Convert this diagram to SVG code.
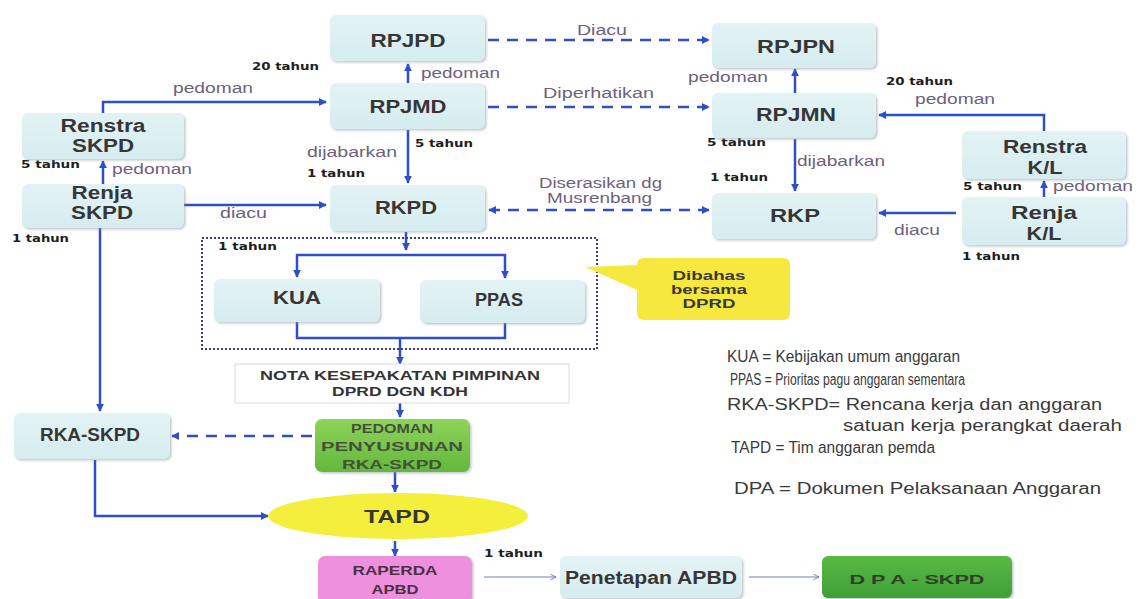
<svg xmlns="http://www.w3.org/2000/svg" width="1139" height="599" viewBox="0 0 1139 599">
<defs>
<style>
.bx{fill:url(#lb);filter:url(#sh)}
.n{font-family:"Liberation Sans",Arial,sans-serif;font-weight:bold;font-size:18px;fill:#363636;text-anchor:middle}
.ns{font-family:"Liberation Sans",Arial,sans-serif;font-weight:bold;font-size:13px;text-anchor:middle}
.l{font-family:"Liberation Sans",Arial,sans-serif;font-size:14px;fill:#6d5f80}
.y{font-family:"DejaVu Sans",sans-serif;font-weight:bold;font-size:11px;fill:#1e1e1e}
.g{font-family:"Liberation Sans",Arial,sans-serif;font-size:16px;fill:#3a3a3a}
.c{fill:none;stroke:#2f4fc6;stroke-width:2.5}
.d{fill:none;stroke:#2f4fc6;stroke-width:2.5;stroke-dasharray:11 8}
.t{fill:none;stroke:#6a7fc0;stroke-width:1}
</style>
<linearGradient id="lb" x1="0" y1="0" x2="0" y2="1"><stop offset="0" stop-color="#e3f3f5"/><stop offset="1" stop-color="#d6ecef"/></linearGradient>
<linearGradient id="gr" x1="0" y1="0" x2="0" y2="1"><stop offset="0" stop-color="#8fd35a"/><stop offset="1" stop-color="#62b83c"/></linearGradient>
<linearGradient id="gr2" x1="0" y1="0" x2="0" y2="1"><stop offset="0" stop-color="#58b944"/><stop offset="1" stop-color="#3fa035"/></linearGradient>
<filter id="sh" x="-10%" y="-10%" width="125%" height="140%"><feDropShadow dx="1.5" dy="1.5" stdDeviation="1.2" flood-color="#8a9aa0" flood-opacity="0.55"/></filter>
<marker id="a" viewBox="0 0 10 10" refX="9" refY="5" markerWidth="8" markerHeight="8" markerUnits="userSpaceOnUse" orient="auto-start-reverse"><path d="M0,0 L10,5 L0,10 z" fill="#2f4fc6"/></marker>
<marker id="at" viewBox="0 0 10 10" refX="9" refY="5" markerWidth="7" markerHeight="7" markerUnits="userSpaceOnUse" orient="auto"><path d="M1,1 L9,5 L1,9" fill="none" stroke="#6a7fc0" stroke-width="1.3"/></marker>
</defs>
<rect width="1139" height="599" fill="#ffffff"/>

<g id="connectors">
<path class="c" d="M408,83 L408,64" marker-end="url(#a)"/>
<path class="c" d="M103,113 L103,102 L326,102" marker-end="url(#a)"/>
<path class="c" d="M103,184 L103,161" marker-end="url(#a)"/>
<path class="c" d="M184,205 L326,205" marker-end="url(#a)"/>
<path class="c" d="M408,130 L408,183" marker-end="url(#a)"/>
<path class="c" d="M795,93 L795,69" marker-end="url(#a)"/>
<path class="c" d="M1044,132 L1044,115 L879,115" marker-end="url(#a)"/>
<path class="c" d="M1044,197 L1044,181" marker-end="url(#a)"/>
<path class="c" d="M956,213 L879,213" marker-end="url(#a)"/>
<path class="c" d="M795,139 L795,191" marker-end="url(#a)"/>
<path class="c" d="M406,232 L406,250" marker-end="url(#a)"/>
<path class="c" d="M406,255 L297,255 L297,277" marker-end="url(#a)"/>
<path class="c" d="M406,255 L505,255 L505,278" marker-end="url(#a)"/>
<path class="c" d="M297,322 L297,338 L505,338 L505,323"/>
<path class="c" d="M400,338 L400,364" marker-end="url(#a)"/>
<path class="c" d="M400,403 L400,417" marker-end="url(#a)"/>
<path class="c" d="M100,228 L100,411" marker-end="url(#a)"/>
<path class="c" d="M95,460 L95,516 L268,516" marker-end="url(#a)"/>
<path class="c" d="M395,472 L395,492" marker-end="url(#a)"/>
<path class="c" d="M395,541 L395,556" marker-end="url(#a)"/>
<path class="d" d="M488,40 L709,40" marker-end="url(#a)"/>
<path class="d" d="M488,107 L709,107" marker-end="url(#a)"/>
<path class="d" d="M489,210 L709,210" marker-start="url(#a)" marker-end="url(#a)"/>
<path class="d" d="M312,436 L172,436" marker-end="url(#a)"/>
<path class="t" d="M484,577 L556,577" marker-end="url(#at)"/>
<path class="t" d="M749,577 L819,577" marker-end="url(#at)"/>
</g>

<g id="labels">
<text class="l" x="173" y="93" textLength="80" lengthAdjust="spacingAndGlyphs">pedoman</text>
<text class="l" x="421" y="78" textLength="79" lengthAdjust="spacingAndGlyphs">pedoman</text>
<text class="l" x="112" y="174" textLength="80" lengthAdjust="spacingAndGlyphs">pedoman</text>
<text class="l" x="220" y="218" textLength="47" lengthAdjust="spacingAndGlyphs">diacu</text>
<text class="l" x="307" y="157" textLength="90" lengthAdjust="spacingAndGlyphs">dijabarkan</text>
<text class="l" x="577" y="35" textLength="50" lengthAdjust="spacingAndGlyphs">Diacu</text>
<text class="l" x="543" y="98" textLength="111" lengthAdjust="spacingAndGlyphs">Diperhatikan</text>
<text class="l" x="539" y="188" textLength="123" lengthAdjust="spacingAndGlyphs">Diserasikan dg</text>
<text class="l" x="547" y="203" textLength="105" lengthAdjust="spacingAndGlyphs">Musrenbang</text>
<text class="l" x="688" y="82" textLength="80" lengthAdjust="spacingAndGlyphs">pedoman</text>
<text class="l" x="915" y="104" textLength="80" lengthAdjust="spacingAndGlyphs">pedoman</text>
<text class="l" x="797" y="166" textLength="88" lengthAdjust="spacingAndGlyphs">dijabarkan</text>
<text class="l" x="1053" y="191" textLength="80" lengthAdjust="spacingAndGlyphs">pedoman</text>
<text class="l" x="894" y="235" textLength="46" lengthAdjust="spacingAndGlyphs">diacu</text>
<text class="y" x="252" y="70" textLength="67" lengthAdjust="spacingAndGlyphs">20 tahun</text>
<text class="y" x="415" y="147" textLength="58" lengthAdjust="spacingAndGlyphs">5 tahun</text>
<text class="y" x="307" y="177" textLength="58" lengthAdjust="spacingAndGlyphs">1 tahun</text>
<text class="y" x="21" y="168" textLength="59" lengthAdjust="spacingAndGlyphs">5 tahun</text>
<text class="y" x="12" y="242" textLength="57" lengthAdjust="spacingAndGlyphs">1 tahun</text>
<text class="y" x="218" y="250" textLength="59" lengthAdjust="spacingAndGlyphs">1 tahun</text>
<text class="y" x="886" y="85" textLength="67" lengthAdjust="spacingAndGlyphs">20 tahun</text>
<text class="y" x="707" y="146" textLength="59" lengthAdjust="spacingAndGlyphs">5 tahun</text>
<text class="y" x="710" y="181" textLength="58" lengthAdjust="spacingAndGlyphs">1 tahun</text>
<text class="y" x="963" y="190" textLength="59" lengthAdjust="spacingAndGlyphs">5 tahun</text>
<text class="y" x="962" y="260" textLength="58" lengthAdjust="spacingAndGlyphs">1 tahun</text>
<text class="y" x="484" y="557" textLength="59" lengthAdjust="spacingAndGlyphs">1 tahun</text>
</g>

<g id="box-1tahun">
<rect x="202" y="238" width="395" height="111" fill="none" stroke="#3a3f7a" stroke-width="2" stroke-dasharray="2 2"/>
</g>

<g id="RPJPD"><rect class="bx" x="330" y="15" width="155" height="46" rx="6"/><text class="n" x="408" y="47" textLength="75" lengthAdjust="spacingAndGlyphs">RPJPD</text></g>
<g id="RPJMD"><rect class="bx" x="330" y="83" width="155" height="46" rx="6"/><text class="n" x="408" y="113" textLength="77" lengthAdjust="spacingAndGlyphs">RPJMD</text></g>
<g id="RKPD"><rect class="bx" x="330" y="185" width="155" height="46" rx="6"/><text class="n" x="406" y="214" textLength="62" lengthAdjust="spacingAndGlyphs">RKPD</text></g>
<g id="RPJPN"><rect class="bx" x="712" y="23" width="164" height="45" rx="6"/><text class="n" x="796" y="53" textLength="78" lengthAdjust="spacingAndGlyphs">RPJPN</text></g>
<g id="RPJMN"><rect class="bx" x="712" y="93" width="164" height="45" rx="6"/><text class="n" x="796" y="121" textLength="80" lengthAdjust="spacingAndGlyphs">RPJMN</text></g>
<g id="RKP"><rect class="bx" x="712" y="193" width="164" height="46" rx="6"/><text class="n" x="795" y="222" textLength="50" lengthAdjust="spacingAndGlyphs">RKP</text></g>
<g id="RenstraSKPD"><rect class="bx" x="22" y="113" width="162" height="46" rx="6"/><text class="n" x="103" y="132" textLength="85" lengthAdjust="spacingAndGlyphs">Renstra</text><text class="n" x="103" y="152" textLength="62" lengthAdjust="spacingAndGlyphs">SKPD</text></g>
<g id="RenjaSKPD"><rect class="bx" x="22" y="184" width="162" height="44" rx="6"/><text class="n" x="102" y="199" textLength="61" lengthAdjust="spacingAndGlyphs">Renja</text><text class="n" x="102" y="219" textLength="62" lengthAdjust="spacingAndGlyphs">SKPD</text></g>
<g id="RenstraKL"><rect class="bx" x="962" y="131" width="164" height="48" rx="6"/><text class="n" x="1045" y="153" textLength="84" lengthAdjust="spacingAndGlyphs">Renstra</text><text class="n" x="1045" y="174" textLength="35" lengthAdjust="spacingAndGlyphs">K/L</text></g>
<g id="RenjaKL"><rect class="bx" x="962" y="197" width="164" height="48" rx="6"/><text class="n" x="1044" y="219" textLength="66" lengthAdjust="spacingAndGlyphs">Renja</text><text class="n" x="1044" y="240" textLength="35" lengthAdjust="spacingAndGlyphs">K/L</text></g>
<g id="KUA"><rect class="bx" x="214" y="279" width="166" height="43" rx="6"/><text class="n" x="297" y="304" textLength="48" lengthAdjust="spacingAndGlyphs">KUA</text></g>
<g id="PPAS"><rect class="bx" x="420" y="280" width="165" height="43" rx="6"/><text class="n" x="499" y="306" textLength="48" lengthAdjust="spacingAndGlyphs">PPAS</text></g>
<g id="Dibahas">
<path d="M644,258 L783,258 Q790,258 790,265 L790,313 Q790,320 783,320 L644,320 Q637,320 637,313 L637,290 L585,267 L637,265 Q637,258 644,258 Z" fill="#f6e83e"/>
<text class="ns" x="709" y="280" fill="#3a3a3a" font-size="14" textLength="73" lengthAdjust="spacingAndGlyphs">Dibahas</text>
<text class="ns" x="709" y="294" fill="#3a3a3a" font-size="14" textLength="76" lengthAdjust="spacingAndGlyphs">bersama</text>
<text class="ns" x="709" y="308" fill="#3a3a3a" font-size="14" textLength="53" lengthAdjust="spacingAndGlyphs">DPRD</text>
</g>
<g id="NOTA"><rect x="235" y="364" width="334" height="39" fill="#ffffff" stroke="#dcdcdc" stroke-width="1"/>
<text class="ns" x="400" y="380" fill="#333" font-size="12" textLength="280" lengthAdjust="spacingAndGlyphs">NOTA KESEPAKATAN PIMPINAN</text>
<text class="ns" x="400" y="396" fill="#333" font-size="12" textLength="136" lengthAdjust="spacingAndGlyphs">DPRD DGN KDH</text></g>
<g id="RKASKPD"><rect class="bx" x="14" y="413" width="156" height="46" rx="6"/><text class="n" x="90" y="441" font-size="14" textLength="100" lengthAdjust="spacingAndGlyphs">RKA-SKPD</text></g>
<g id="PEDOMAN"><rect x="315" y="419" width="155" height="53" rx="7" fill="url(#gr)" filter="url(#sh)"/>
<text class="ns" x="392" y="433" fill="#44503a" font-size="12" textLength="82" lengthAdjust="spacingAndGlyphs">PEDOMAN</text>
<text class="ns" x="392" y="451" fill="#44503a" font-size="12" textLength="142" lengthAdjust="spacingAndGlyphs">PENYUSUNAN</text>
<text class="ns" x="392" y="469" fill="#44503a" font-size="12" textLength="100" lengthAdjust="spacingAndGlyphs">RKA-SKPD</text></g>
<g id="TAPD"><ellipse cx="398" cy="516" rx="130" ry="23" fill="#f4ee3c"/><text class="n" x="397" y="523" font-size="17" textLength="66" lengthAdjust="spacingAndGlyphs">TAPD</text></g>
<g id="RAPERDA"><rect x="318" y="556" width="154" height="48" rx="7" fill="#ef90de" filter="url(#sh)"/>
<text class="ns" x="395" y="575" fill="#4a3040" textLength="85" lengthAdjust="spacingAndGlyphs">RAPERDA</text>
<text class="ns" x="395" y="594" fill="#4a3040" textLength="47" lengthAdjust="spacingAndGlyphs">APBD</text></g>
<g id="Penetapan"><rect class="bx" x="560" y="556" width="182" height="42" rx="6"/><text class="n" x="651" y="584" font-size="17" textLength="172" lengthAdjust="spacingAndGlyphs">Penetapan APBD</text></g>
<g id="DPASKPD"><rect x="822" y="556" width="190" height="42" rx="6" fill="url(#gr2)" filter="url(#sh)"/><text class="ns" x="917" y="584" fill="#2f3f28" font-size="14" textLength="135" lengthAdjust="spacingAndGlyphs">D P A - SKPD</text></g>

<g id="legend">
<text class="g" x="727" y="362" font-size="15" textLength="233" lengthAdjust="spacingAndGlyphs">KUA  = Kebijakan umum anggaran</text>
<text class="g" x="730" y="385" font-size="10.5" textLength="235" lengthAdjust="spacingAndGlyphs">PPAS = Prioritas pagu  anggaran sementara</text>
<text class="g" x="727" y="410" textLength="375" lengthAdjust="spacingAndGlyphs">RKA-SKPD= Rencana kerja dan anggaran</text>
<text class="g" x="843" y="431" textLength="279" lengthAdjust="spacingAndGlyphs">satuan kerja perangkat daerah</text>
<text class="g" x="731" y="453" font-size="15" textLength="204" lengthAdjust="spacingAndGlyphs">TAPD = Tim anggaran pemda</text>
<text class="g" x="734" y="494" textLength="367" lengthAdjust="spacingAndGlyphs">DPA = Dokumen Pelaksanaan Anggaran</text>
</g>
</svg>
